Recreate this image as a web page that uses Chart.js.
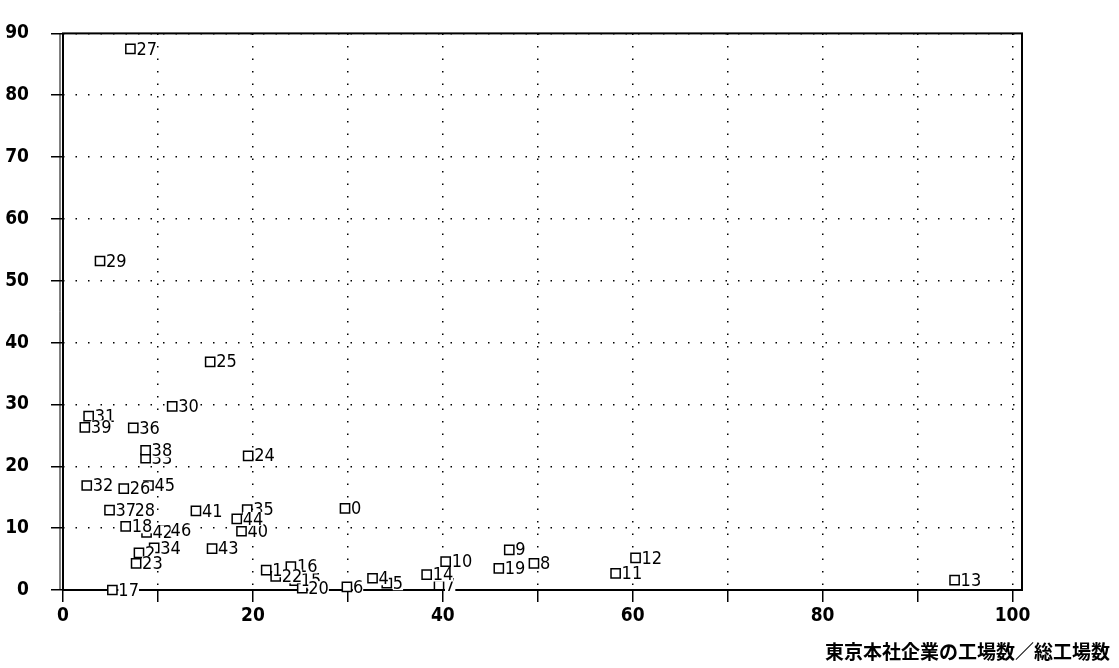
<!DOCTYPE html>
<html>
<head>
<meta charset="utf-8">
<script src="https://cdn.jsdelivr.net/npm/chart.js@4/dist/chart.umd.min.js"></script>
<style>
  html, body { margin: 0; padding: 0; background: #fff; }
  #wrap { width: 1119px; height: 668px; }
</style>
</head>
<body>
<div id="wrap"><canvas id="scatterChart" width="1119" height="668"></canvas></div>
<script>
// point numbers and values
const pointLabels = ['0', '1', '2', '4', '5', '6', '7', '8', '9', '10',
  '11', '12', '13', '14', '15', '16', '17', '18', '19', '20',
  '22', '23', '24', '25', '26', '27', '28', '29', '30', '31',
  '32', '33', '34', '35', '36', '37', '38', '39', '40', '41',
  '42', '43', '44', '45', '46'];
const xValues = [29.7, 21.4, 8.0, 32.6, 34.1, 29.9, 39.6, 49.6, 47.0, 40.3,
  58.2, 60.3, 93.9, 38.3, 24.4, 24.0, 5.2, 6.6, 45.9, 25.2,
  22.4, 7.7, 19.5, 15.5, 6.4, 7.1, 6.9, 3.9, 11.5, 2.7,
  2.5, 8.7, 9.6, 19.4, 7.4, 4.9, 8.7, 2.3, 18.8, 14.0,
  8.8, 15.7, 18.3, 9.0, 10.7];
const yValues = [13.2, 3.2, 6.0, 1.9, 1.1, 0.5, 0.8, 4.3, 6.5, 4.6,
  2.7, 5.2, 1.6, 2.5, 1.5, 3.8, 0.0, 10.3, 3.5, 0.3,
  2.2, 4.3, 21.7, 36.9, 16.4, 87.5, 12.9, 53.2, 29.7, 28.1,
  16.9, 21.3, 6.8, 13.0, 26.2, 12.9, 22.6, 26.3, 9.5, 12.8,
  9.3, 6.7, 11.5, 16.9, 9.6];

// stray dot just left of the y axis
const strayX = [-0.7];
const strayY = [23.3];

const xTickValues = [0, 10, 20, 30, 40, 50, 60, 70, 80, 90, 100];
const yTickValues = [0, 10, 20, 30, 40, 50, 60, 70, 80, 90];
const xTitle = '東京本社企業の工場数／総工場数';

const narrow = '"Liberation Sans Narrow", "DejaVu Sans Condensed", sans-serif';

const frame = {
    id: 'frame',
    beforeDatasetsDraw(chart) {
        const {ctx, chartArea: a} = chart;
        ctx.save();
        ctx.strokeStyle = '#000';
        ctx.lineWidth = 2;
        ctx.strokeRect(a.left, a.top, a.right - a.left, a.bottom - a.top);
        ctx.lineWidth = 1;
        ctx.beginPath();
        ctx.moveTo(a.left - 3, a.top);
        ctx.lineTo(a.left - 3, a.bottom);
        ctx.stroke();
        ctx.restore();
    }
};

const pointText = {
    id: 'pointText',
    afterDatasetsDraw(chart) {
        const {ctx} = chart;
        const meta = chart.getDatasetMeta(0);
        ctx.save();
        ctx.font = '18px ' + narrow;
        ctx.textBaseline = 'middle';
        ctx.textAlign = 'left';
        meta.data.forEach((pt, i) => {
            const t = pointLabels[i];
            const w = ctx.measureText(t).width;
            ctx.fillStyle = '#fff';
            ctx.fillRect(pt.x + 6, pt.y - 7, w, 14);
            ctx.fillStyle = '#000';
            ctx.fillText(t, pt.x + 6, pt.y + 1);
        });
        ctx.restore();
    }
};

const axisTitle = {
    id: 'axisTitle',
    afterDraw(chart) {
        const {ctx} = chart;
        ctx.save();
        ctx.font = 'bold 19px "Noto Sans CJK JP"';
        ctx.fillStyle = '#000';
        ctx.textAlign = 'right';
        ctx.textBaseline = 'middle';
        ctx.fillText(xTitle, chart.width - 9, 652);
        ctx.restore();
    }
};

new Chart(document.getElementById('scatterChart'), {
    type: 'scatter',
    data: {
        datasets: [{
            data: xValues.map((x, i) => ({x: x, y: yValues[i]})),
            pointStyle: 'rect',
            pointRadius: 6.5,
            pointHoverRadius: 6.5,
            borderColor: '#000',
            backgroundColor: '#fff',
            borderWidth: 1.5,
            clip: false
        }, {
            data: strayX.map((x, i) => ({x: x, y: strayY[i]})),
            pointStyle: 'circle',
            pointRadius: 2.5,
            borderColor: '#000',
            backgroundColor: '#000',
            clip: false
        }]
    },
    options: {
        responsive: false,
        animation: false,
        layout: { padding: { left: 0, top: 19, right: 97, bottom: 0 } },
        plugins: {
            legend: { display: false },
            tooltip: { enabled: false }
        },
        scales: {
            x: {
                type: 'linear',
                min: 0,
                max: 101,
                afterBuildTicks: s => { s.ticks = xTickValues.map(v => ({value: v})); },
                afterFit: s => { s.height = 78; },
                border: { display: false, dash: [1.5, 11] },
                grid: {
                    color: c => (c.tick && c.tick.value === 0) ? 'rgba(0,0,0,0)' : '#000',
                    lineWidth: 1.5,
                    tickColor: '#000',
                    tickWidth: 1.5,
                    tickLength: 12
                },
                ticks: {
                    autoSkip: false,
                    maxRotation: 0,
                    padding: 3,
                    color: '#000',
                    font: { family: narrow, size: 19, weight: 'bold' },
                    callback: v => (v % 20 === 0 ? v : '')
                }
            },
            y: {
                type: 'linear',
                min: 0,
                max: 90,
                afterBuildTicks: s => { s.ticks = yTickValues.map(v => ({value: v})); },
                afterFit: s => { s.width = 63; },
                border: { display: false, dash: [1.5, 11] },
                grid: {
                    color: c => (c.tick && c.tick.value === 0) ? 'rgba(0,0,0,0)' : '#000',
                    lineWidth: 1.5,
                    tickColor: '#000',
                    tickWidth: 1.5,
                    tickLength: 12
                },
                ticks: {
                    autoSkip: false,
                    padding: 22,
                    color: '#000',
                    font: { family: narrow, size: 19, weight: 'bold' }
                }
            }
        }
    },
    plugins: [frame, pointText, axisTitle]
});
</script>
</body>
</html>
